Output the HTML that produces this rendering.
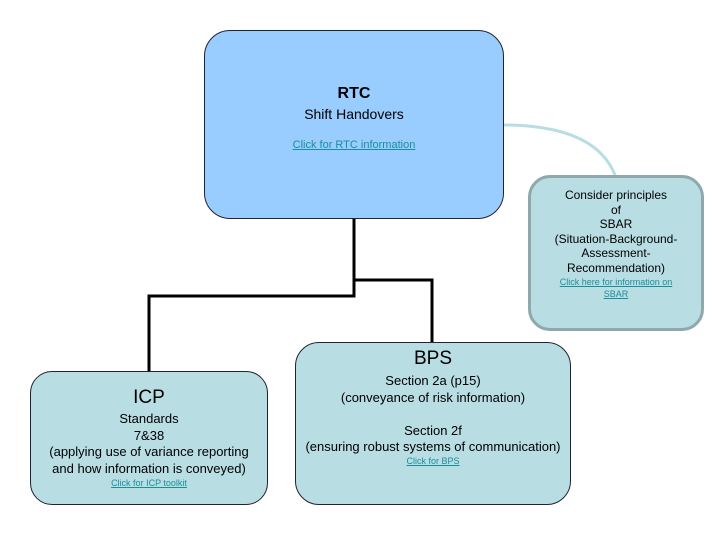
<!DOCTYPE html>
<html><head><meta charset="utf-8"><style>
body{margin:0;width:720px;height:540px;background:#fff;position:relative;overflow:hidden;font-family:"Liberation Sans",sans-serif;color:#000}
.b{position:absolute;box-sizing:border-box;text-align:center}
.t{position:absolute;left:0;right:0;text-align:center;white-space:nowrap}
a{color:#1a8f9a;text-decoration:underline}
</style></head><body>
<svg width="720" height="540" style="position:absolute;left:0;top:0">
<path d="M503 125 Q595 125 615 175" fill="none" stroke="#b8dde3" stroke-width="3"/>
<path d="M354 219 V296 H149 V372 M354 280 H432 V343" fill="none" stroke="#000" stroke-width="3"/>
</svg>
<div class="b" style="left:204px;top:30px;width:300px;height:189px;background:#99ccff;border:1px solid #223;border-radius:26px">
<div class="t" style="top:54px;font-size:16px;font-weight:bold">RTC</div>
<div class="t" style="top:75px;font-size:14px">Shift Handovers</div>
<div class="t" style="top:108px;font-size:11px"><a>Click for RTC information</a></div>
</div>
<div class="b" style="left:528px;top:175px;width:176px;height:156px;background:#b8dde3;border:3px solid #8ea8ab;border-radius:22px;font-size:12px;line-height:14.5px">
<div class="t" style="top:10px">Consider principles<br>of<br>SBAR<br>(Situation-Background-<br>Assessment-<br>Recommendation)</div>
<div class="t" style="top:98px;font-size:9px;line-height:12px"><a>Click here for information on<br>SBAR</a></div>
</div>
<div class="b" style="left:30px;top:371px;width:238px;height:134px;background:#b8dde3;border:1px solid #223;border-radius:22px">
<div class="t" style="top:15px;font-size:19px">ICP</div>
<div class="t" style="top:39px;font-size:13px;line-height:16.5px">Standards<br>7&amp;38<br>(applying use of variance reporting<br>and how information is conveyed)</div>
<div class="t" style="top:106px;font-size:9px"><a>Click for ICP toolkit</a></div>
</div>
<div class="b" style="left:295px;top:342px;width:276px;height:163px;background:#b8dde3;border:1px solid #223;border-radius:24px">
<div class="t" style="top:5px;font-size:19px">BPS</div>
<div class="t" style="top:30px;font-size:13px;line-height:16.5px">Section 2a (p15)<br>(conveyance of risk information)<br><br>Section 2f<br>(ensuring robust systems of communication)</div>
<div class="t" style="top:113px;font-size:9px"><a>Click for BPS</a></div>
</div>
</body></html>
